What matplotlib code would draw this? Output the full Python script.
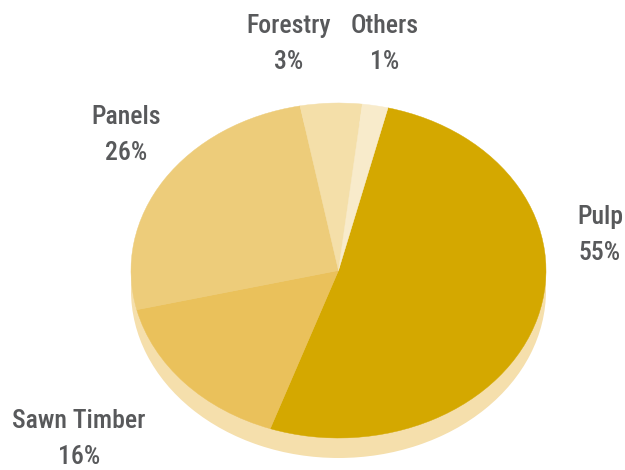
import matplotlib
matplotlib.use("Agg")
import matplotlib.pyplot as plt
from matplotlib import font_manager

categories = ["Pulp", "Sawn Timber", "Panels", "Forestry", "Others"]
pct_labels = [55, 16, 26, 3, 1]
# slice sizes as drawn in the picture (degrees of the ellipse, in %)
slice_sizes = [51.5, 15.9, 25.8, 4.8, 2.0]
colors = ["#D4A800", "#EAC15B", "#EDCC7A", "#F4DFA9", "#F8EBCB"]
shadow_color = "#F5DFAC"

W, H = 625, 470
cx, cy = 338.5, 270.5
rx, ry = 207.5, 167.5
depth = 20

fig = plt.figure(figsize=(W / 100, H / 100), dpi=100)
ax = fig.add_axes([0, 0, 1, 1])

cyu = H - cy
ax.pie([1], colors=[shadow_color], center=(0, -depth / ry), startangle=90,
       wedgeprops=dict(linewidth=0))
wedges, _ = ax.pie(slice_sizes, colors=colors, startangle=90 - 13.8, counterclock=False,
                   wedgeprops=dict(linewidth=0.3))
for w, c in zip(wedges, colors):
    w.set_edgecolor(c)
ax.set_aspect("auto")
ax.set_xlim(-cx / rx, (W - cx) / rx)
ax.set_ylim(-cyu / ry, (H - cyu) / ry)
ax.axis("off")

names = set(f.name for f in font_manager.fontManager.ttflist)
fam = "Roboto Condensed" if "Roboto Condensed" in names else (
    "Liberation Sans Narrow" if "Liberation Sans Narrow" in names else "Roboto")

label_pos = {
    "Pulp": (600, 217),
    "Sawn Timber": (79, 421),
    "Panels": (126, 117),
    "Forestry": (289, 26),
    "Others": (385, 26),
}
for name, p in zip(categories, pct_labels):
    x, y = label_pos[name]
    fig.text(x / W, 1 - y / H, name, ha="center", va="center", fontsize=18.5,
             color="#58595B", family=fam, fontstretch="condensed", fontweight="medium")
    fig.text(x / W, 1 - (y + 36) / H, f"{p}%", ha="center", va="center", fontsize=18.5,
             color="#58595B", family=fam, fontstretch="condensed", fontweight="medium")

fig.savefig("out.png", dpi=100)
